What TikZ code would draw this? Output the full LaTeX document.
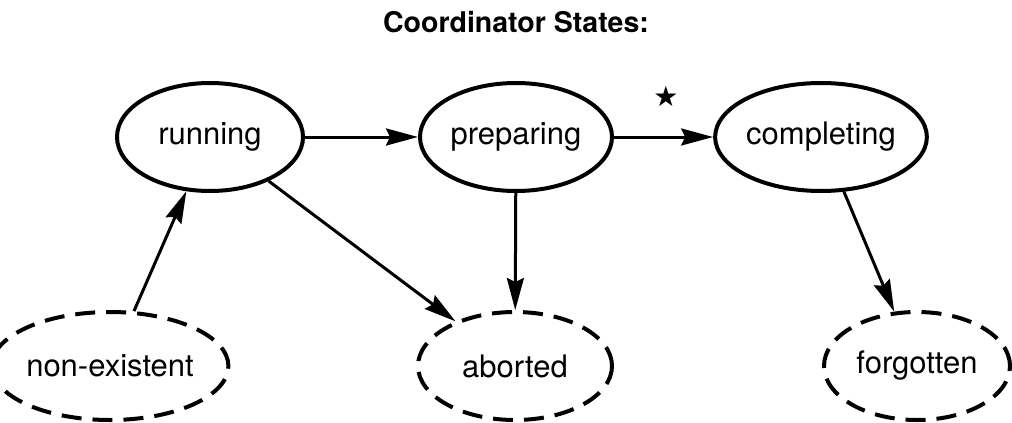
\documentclass[tikz,border=0pt]{standalone}
\usepackage{fontspec}
\setmainfont{TeX Gyre Heros}
\newfontfamily\symfont{DejaVu Sans}
\usetikzlibrary{shapes.geometric,arrows.meta}
\tikzset{
  state/.style={ellipse, draw, line width=4pt, inner sep=0pt,
    font=\fontsize{31}{36}\selectfont},
  endstate/.style={state, dash pattern=on 20pt off 11pt},
  conn/.style={line width=3pt, -{Stealth[length=32pt,width=17pt,inset=4pt]}},
}
\begin{document}
\begin{tikzpicture}[x=1pt,y=-1pt]
\useasboundingbox (0,0) rectangle (1012,423);
\node[font=\fontsize{28.5}{34}\selectfont\bfseries] (title) at (516,22) {Coordinator States:};
\node[state, minimum width=186pt, minimum height=108pt] (running) at (210,137) {running};
\node[state, minimum width=192pt, minimum height=108pt] (preparing) at (516,137) {preparing};
\node[state, minimum width=194pt, minimum height=108pt] (completing) at (821,137) {completing};
\node[endstate, minimum width=192pt, minimum height=108pt] (nonex) at (110,366) {non-existent};
\node[endstate, minimum width=194pt, minimum height=108pt] (aborted) at (515,366) {aborted};
\node[endstate, minimum width=186pt, minimum height=108pt] (forgotten) at (917,366) {forgotten};
\node[font=\symfont\fontsize{28}{32}\selectfont, inner sep=0pt] (star) at (666,96) {★};
\draw[conn] (running) -- (preparing);
\draw[conn] (preparing) -- (completing);
\draw[conn] (nonex) -- (running);
\draw[conn] (running) -- (aborted);
\draw[conn] (preparing) -- (aborted);
\draw[conn] (completing) -- (forgotten);
\end{tikzpicture}
\end{document}
